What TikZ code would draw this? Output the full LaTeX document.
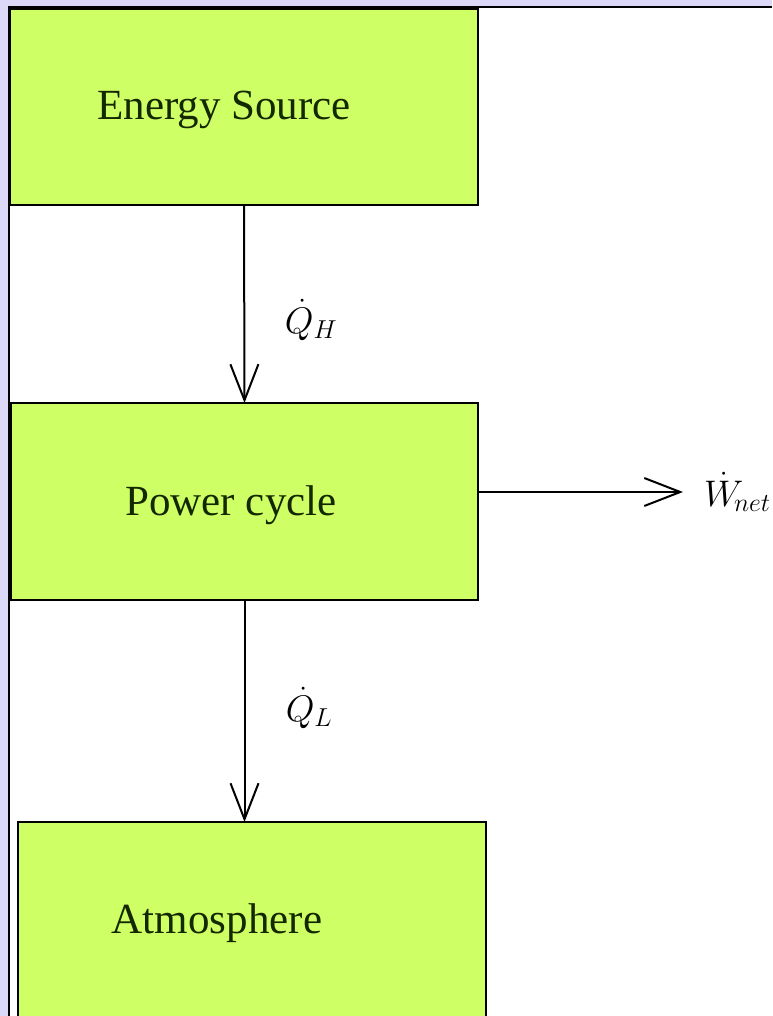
\RequirePackage{fix-cm}
\documentclass[tikz,border=0pt]{standalone}
\usepackage{fontspec}
\setmainfont{Liberation Serif}
\usetikzlibrary{arrows.meta}
\definecolor{lav}{RGB}{220,216,248}
\definecolor{limefill}{RGB}{206,255,100}
\definecolor{ink}{RGB}{20,40,0}
\begin{document}
\begin{tikzpicture}[x=1pt,y=-1pt,
  boxstyle/.style={draw=black, line width=2.8pt, fill=limefill, inner sep=0pt, outer sep=0pt, rectangle},
  lbl/.style={font=\fontsize{43}{50}\selectfont, text=ink, anchor=base, inner sep=0pt},
  mlbl/.style={font=\fontsize{37}{42}\selectfont, text=black, inner sep=0pt},
  flow/.style={line width=2pt, -{Straight Barb[length=36pt,width=28pt,line width=2pt]}}]
\useasboundingbox (0,0) rectangle (772,1016);
\clip (0,0) rectangle (772,1016);
% background
\fill[lav] (0,0) rectangle (772,1016);
\fill[white] (9,7) rectangle (772,1016);
\draw[line width=2.6pt] (9,1016) -- (9,7) -- (772,7);
% boxes
\node[boxstyle, minimum width=468pt, minimum height=196pt] (src) at (244,107) {};
\node[boxstyle, minimum width=467pt, minimum height=197pt] (cyc) at (244.5,501.5) {};
\node[boxstyle, minimum width=468pt, minimum height=240pt] (atm) at (252,942) {};
% texts
\node[lbl] (srct) at (224,120) {Energy Source};
\node[lbl] (cyct) at (231,515) {Power cycle};
\node[lbl] (atmt) at (217,933) {Atmosphere};
% connectors
\coordinate (wtip) at (683,492);
\draw[flow] (src.south) -- (cyc.north);
\draw[flow] (cyc.south) -- (cyc.south |- atm.north);
\draw[flow] (cyc.east |- wtip) -- (wtip);
% flow labels
\node[mlbl] (qh) at (311,320) {$\dot{Q}_H$};
\node[mlbl] (ql) at (309,708) {$\dot{Q}_L$};
\node[mlbl, anchor=west] (wn) at (704,492) {$\dot{W}_{\!net}$};
\end{tikzpicture}
\end{document}
